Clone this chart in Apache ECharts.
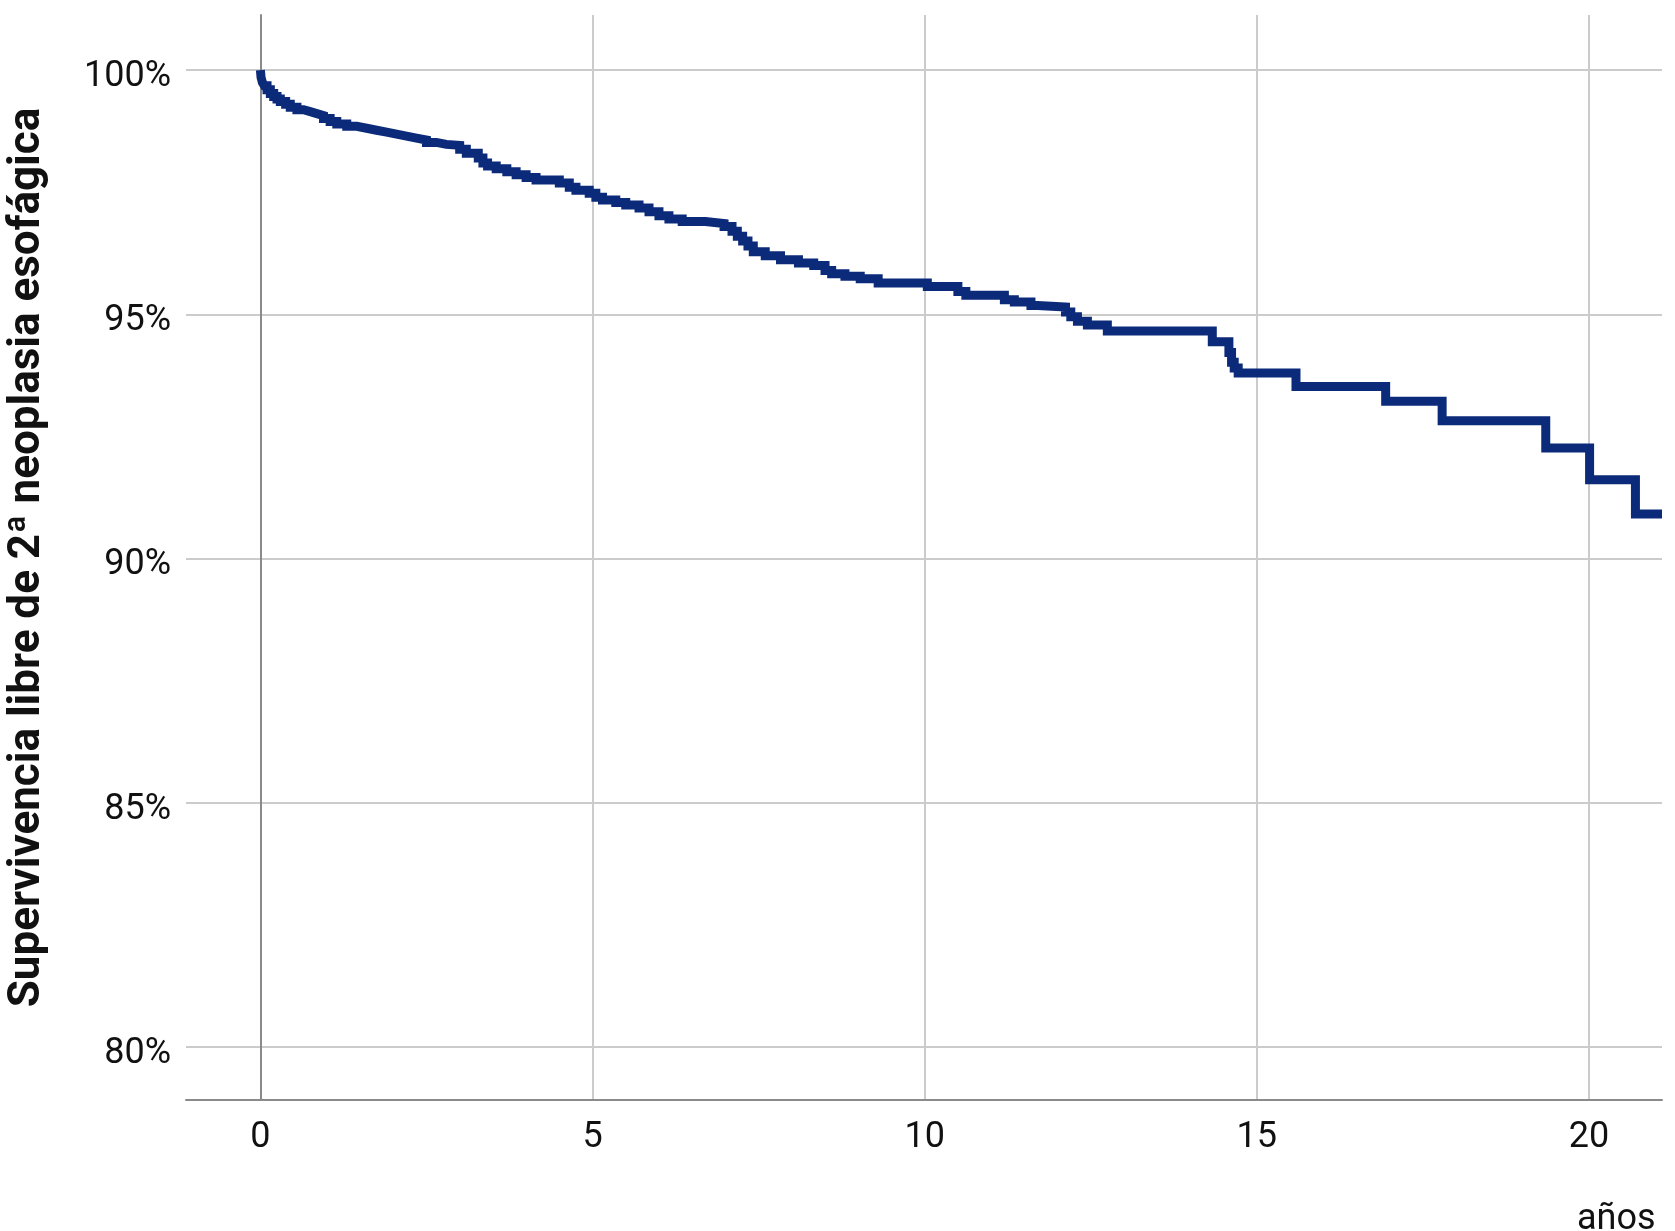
<!DOCTYPE html>
<html>
<head>
<meta charset="utf-8">
<style>
html,body{margin:0;padding:0;background:#fff;}
#chart{width:1675px;height:1231px;}
</style>
<script src="https://cdn.jsdelivr.net/npm/echarts@6/dist/echarts.min.js"></script>
</head>
<body>
<div id="chart"></div>
<script>
// Kaplan-Meier step curve: time (years) and survival (%) after each step
const years = [0, 0.01, 0.03, 0.06, 0.1, 0.15, 0.2, 0.25, 0.3, 0.38, 0.45, 0.55, 0.65, 0.75, 0.85, 0.95, 1.05, 1.15, 1.3, 1.45, 1.6, 1.75, 1.9, 2.05, 2.2, 2.35, 2.5, 2.65, 2.8, 3.0, 3.1, 3.28, 3.35, 3.42, 3.55, 3.71, 3.85, 4.0, 4.15, 4.5, 4.65, 4.75, 4.95, 5.05, 5.15, 5.35, 5.5, 5.7, 5.85, 6.0, 6.15, 6.35, 6.7, 6.98, 7.1, 7.18, 7.26, 7.34, 7.42, 7.6, 7.83, 8.1, 8.33, 8.5, 8.6, 8.8, 9.03, 9.3, 10.04, 10.5, 10.62, 11.2, 11.35, 11.6, 11.7, 12.12, 12.2, 12.3, 12.45, 12.75, 14.33, 14.58, 14.62, 14.66, 14.72, 15.59, 16.94, 17.79, 19.35, 20.01, 20.70, 21.1];
const survival = [100, 99.85, 99.75, 99.68, 99.6, 99.52, 99.46, 99.41, 99.36, 99.3, 99.24, 99.19, 99.15, 99.11, 99.07, 99.01, 98.95, 98.9, 98.85, 98.81, 98.77, 98.73, 98.69, 98.65, 98.61, 98.57, 98.52, 98.48, 98.46, 98.38, 98.3, 98.2, 98.1, 98.04, 97.98, 97.92, 97.86, 97.8, 97.75, 97.69, 97.6, 97.54, 97.48, 97.4, 97.34, 97.29, 97.24, 97.18, 97.1, 97.02, 96.95, 96.9, 96.86, 96.8, 96.7, 96.6, 96.5, 96.4, 96.28, 96.2, 96.12, 96.05, 96.0, 95.9, 95.83, 95.78, 95.73, 95.64, 95.57, 95.47, 95.39, 95.3, 95.25, 95.18, 95.15, 95.05, 94.95, 94.86, 94.78, 94.66, 94.44, 94.22, 94.02, 93.9, 93.8, 93.52, 93.22, 92.82, 92.26, 91.61, 90.91, 90.91];
const xTicks = [0, 5, 10, 15, 20];
const yTicks = [80, 85, 90, 95, 100];
const yTitle = 'Supervivencia libre de 2ª neoplasia esofágica';
const xTitle = 'años';

const chart = echarts.init(document.getElementById('chart'));
const labelFont = 'Roboto, "Liberation Sans", sans-serif';
chart.setOption({
  animation: false,
  backgroundColor: '#ffffff',
  grid: {left: 186, right: 13, top: 15, bottom: 131, containLabel: false, outerBoundsMode: 'none'},
  xAxis: {
    type: 'value', min: -1.12, max: 21.1,
    axisLine: {show: true, onZero: false, lineStyle: {color: '#8a8a8a', width: 2}},
    axisTick: {show: false, customValues: xTicks},
    axisLabel: {customValues: xTicks, color: '#111', fontSize: 36, fontFamily: labelFont, margin: 20},
    splitLine: {show: true, lineStyle: {color: '#cbcbcb', width: 2}}
  },
  yAxis: {
    type: 'value', min: 78.91, max: 101.13,
    name: yTitle, nameLocation: 'middle', nameGap: 136,
    nameTextStyle: {fontSize: 44, fontWeight: 'bold', color: '#111', fontFamily: 'Roboto, sans-serif'},
    axisLine: {show: true, lineStyle: {color: '#8a8a8a', width: 2}},
    axisTick: {show: false, customValues: yTicks},
    axisLabel: {customValues: yTicks, formatter: v => v + '%', color: '#111', fontSize: 36, fontFamily: labelFont, margin: 15, verticalAlign: 'top', lineHeight: 14},
    splitLine: {show: true, lineStyle: {color: '#cbcbcb', width: 2}}
  },
  graphic: [{
    type: 'text', left: 1577, top: 1202,
    style: {text: xTitle, fill: '#111', font: '36px Roboto, sans-serif'}
  }],
  series: [{
    type: 'line', step: 'end', showSymbol: false, symbol: 'none',
    data: years.map((t, i) => [t, survival[i]]),
    lineStyle: {color: '#0b2a7a', width: 9, join: 'miter'},
    z: 5
  }]
});
</script>
</body>
</html>
